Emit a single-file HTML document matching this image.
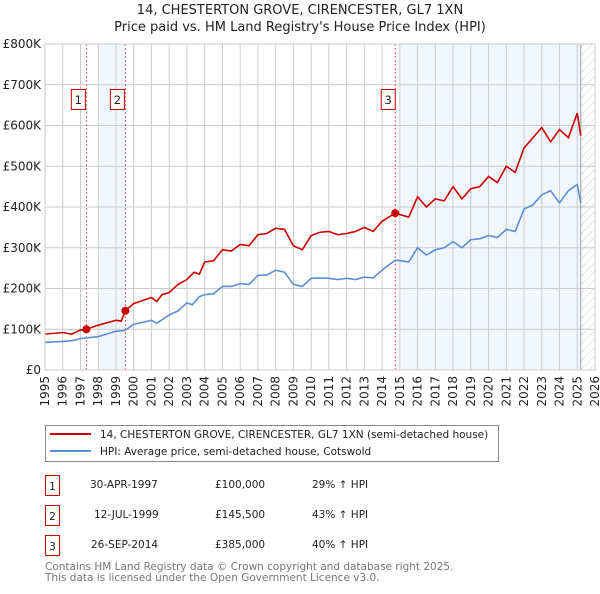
<!DOCTYPE html>
<html><head><meta charset="utf-8"><style>
body{margin:0;background:#fff;font-family:"DejaVu Sans","Liberation Sans",sans-serif;}
svg text{font-family:"DejaVu Sans","Liberation Sans",sans-serif;}
</style></head><body>
<svg id="c" width="600" height="590" xmlns="http://www.w3.org/2000/svg">
<defs><pattern id="hatch" width="6" height="6" patternUnits="userSpaceOnUse" patternTransform="rotate(45)"><line x1="0" y1="0" x2="0" y2="6" stroke="#ccc" stroke-width="1"/></pattern></defs>
<text x="300" y="14" text-anchor="middle" font-size="13" fill="#222">14, CHESTERTON GROVE, CIRENCESTER, GL7 1XN</text>
<text x="300" y="31" text-anchor="middle" font-size="13" fill="#222">Price paid vs. HM Land Registry's House Price Index (HPI)</text>
<g id="plot"></g>
<g>
<rect x="45.5" y="425.5" width="453" height="36" fill="#fff" stroke="#888"/>
<line x1="50" y1="434" x2="91" y2="434" stroke="#cc0000" stroke-width="2"/>
<text x="100" y="438" font-size="10.5" fill="#222">14, CHESTERTON GROVE, CIRENCESTER, GL7 1XN (semi-detached house)</text>
<line x1="50" y1="451" x2="91" y2="451" stroke="#5b8fd4" stroke-width="2"/>
<text x="100" y="455" font-size="10.5" fill="#222">HPI: Average price, semi-detached house, Cotswold</text>
</g>
<g font-size="10.5" fill="#222">
<rect x="45.5" y="475.5" width="14" height="20" fill="none" stroke="#cc0000"/><text x="52.5" y="490" text-anchor="middle">1</text>
<text x="90" y="488">30-APR-1997</text><text x="215" y="488">£100,000</text><text x="312" y="488">29% ↑ HPI</text>
<rect x="45.5" y="505.5" width="14" height="20" fill="none" stroke="#cc0000"/><text x="52.5" y="520" text-anchor="middle">2</text>
<text x="94" y="518">12-JUL-1999</text><text x="215" y="518">£145,500</text><text x="312" y="518">43% ↑ HPI</text>
<rect x="45.5" y="535.5" width="14" height="20" fill="none" stroke="#cc0000"/><text x="52.5" y="550" text-anchor="middle">3</text>
<text x="91" y="548">26-SEP-2014</text><text x="215" y="548">£385,000</text><text x="312" y="548">40% ↑ HPI</text>
</g>
<text x="45" y="570" font-size="10.5" fill="#777">Contains HM Land Registry data © Crown copyright and database right 2025.</text>
<text x="45" y="581" font-size="10.5" fill="#777">This data is licensed under the Open Government Licence v3.0.</text>
</svg>
<script>
const yTicks=[0,100,200,300,400,500,600,700,800];
const yLabels=["£0","£100K","£200K","£300K","£400K","£500K","£600K","£700K","£800K"];
const xYears=[1995,1996,1997,1998,1999,2000,2001,2002,2003,2004,2005,2006,2007,2008,2009,2010,2011,2012,2013,2014,2015,2016,2017,2018,2019,2020,2021,2022,2023,2024,2025,2026];
const hpiT=[1995,1996,1996.5,1997,1998,1999,1999.5,2000,2001,2001.3,2002,2002.5,2003,2003.3,2003.7,2004,2004.5,2005,2005.5,2006,2006.5,2007,2007.5,2008,2008.5,2009,2009.5,2010,2010.5,2011,2011.5,2012,2012.5,2013,2013.5,2014,2014.75,2015.5,2016,2016.5,2017,2017.5,2018,2018.5,2019,2019.5,2020,2020.5,2021,2021.5,2022,2022.5,2023,2023.5,2024,2024.5,2025,2025.2];
const hpiV=[68,70,72,77,82,95,97,112,122,115,135,145,165,160,180,185,187,205,205,212,210,232,233,245,240,210,205,225,226,225,222,225,222,228,226,245,270,265,300,282,295,300,315,300,320,322,330,325,345,340,395,405,430,440,410,440,455,410];
const redT=[1995,1996,1996.5,1997,1997.33,1998,1999,1999.3,1999.53,2000,2001,2001.3,2001.6,2002,2002.5,2003,2003.4,2003.7,2004,2004.5,2005,2005.5,2006,2006.5,2007,2007.5,2008,2008.5,2009,2009.5,2010,2010.5,2011,2011.5,2012,2012.5,2013,2013.5,2014,2014.74,2015.5,2016,2016.5,2017,2017.5,2018,2018.5,2019,2019.5,2020,2020.5,2021,2021.5,2022,2022.5,2023,2023.5,2024,2024.5,2025,2025.2];
const redV=[88,92,88,98,100,110,122,120,145.5,163,178,168,185,190,210,222,240,235,265,268,295,292,308,305,332,335,348,345,305,295,330,338,340,332,335,340,350,340,365,385,375,425,400,420,415,450,420,445,450,475,460,500,485,545,570,595,560,590,570,630,575];
const saleT=[1997.33,1999.53,2014.74];
const saleV=[100,145.5,385];
const L=45,R=595,T=44,B=370;
const x=t=>L+(t-1995)/31*(R-L);
const y=v=>B-v/800*(B-T);
const NS="http://www.w3.org/2000/svg";
const g=document.getElementById('plot');
function mk(tag,attrs){const e=document.createElementNS(NS,tag);for(const k in attrs)e.setAttribute(k,attrs[k]);g.appendChild(e);return e;}
let e;
e=mk('rect',{x:x(1998),y:T,width:x(1999.53)-x(1998),height:B-T,fill:'#f2f6fd'});


e=mk('rect',{x:x(2014.95),y:T,width:x(2025.2)-x(2014.95),height:B-T,fill:'#f2f6fd'});


e=mk('rect',{x:x(2025.2),y:T,width:R-x(2025.2),height:B-T,fill:'url(#hatch)'});


yTicks.forEach((v,i)=>{
 e=mk('line',{x1:L,x2:R,y1:y(v),y2:y(v),stroke:'#ccc'});
 
 
 e=mk('text',{x:L-4,y:y(v)+4,'text-anchor':'end','font-size':12,fill:'#222'});e.textContent=yLabels[i];
 
 
});
xYears.forEach(t=>{
 e=mk('line',{x1:x(t),x2:x(t),y1:T,y2:B,stroke:'#ccc'});
 
 
 e=mk('text',{x:0,y:0,'text-anchor':'end','font-size':12,fill:'#222',transform:`translate(${x(t)+4},${B+6}) rotate(-90)`});e.textContent=t;
 
 
});
e=mk('line',{x1:x(2025.2),x2:x(2025.2),y1:T,y2:B,stroke:'#999'});


saleT.forEach((t,i)=>{
 e=mk('line',{x1:x(t),x2:x(t),y1:T,y2:B,stroke:'#e06070','stroke-dasharray':'2,2'});
 
 
 e=mk('rect',{x:x(t)-14+(i==2?0:-1),y:89.5,width:14,height:20,fill:'#fff',stroke:'#cc0000'});
 
 
 e=mk('text',{x:x(t)-7+(i==2?0:-1),y:104,'text-anchor':'middle','font-size':11.5,fill:'#222'});e.textContent=String(i+1);
 
 
});
e=mk('polyline',{points:hpiT.map((t,i)=>x(t)+','+y(hpiV[i])).join(' '),fill:'none',stroke:'#5b8fd4','stroke-width':1.6});


e=mk('polyline',{points:redT.map((t,i)=>x(t)+','+y(redV[i])).join(' '),fill:'none',stroke:'#cc0000','stroke-width':1.6});


saleT.forEach((t,i)=>{
 e=mk('circle',{cx:x(t),cy:y(saleV[i]),r:4,fill:'#cc0000'});
 
 
});
e=mk('rect',{x:L,y:T,width:R-L,height:B-T,fill:'none',stroke:'#ccc'});


</script>
</body></html>
